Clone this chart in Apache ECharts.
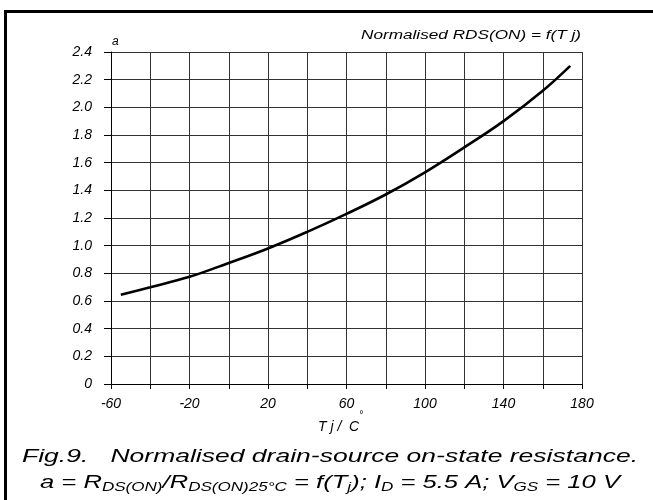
<!DOCTYPE html>
<html><head><meta charset="utf-8">
<script src="https://cdn.jsdelivr.net/npm/echarts@6/dist/echarts.min.js"></script>
<style>html,body{margin:0;padding:0;background:#fff}#c{width:653px;height:500px}</style>
</head><body><div id="c"></div>
<script>
const tempC = [-55, -40, -20, 0, 20, 40, 60, 80, 100, 120, 140, 160, 174];
const ratioA = [0.645, 0.70, 0.775, 0.875, 0.98, 1.10, 1.23, 1.37, 1.53, 1.71, 1.90, 2.12, 2.30];
const xLabelValues = [-60, -20, 20, 60, 100, 140, 180];
const yTickValues = [0, 0.2, 0.4, 0.6, 0.8, 1.0, 1.2, 1.4, 1.6, 1.8, 2.0, 2.2, 2.4];
const chartTitle = 'Normalised RDS(ON) = f(T j)';
const yName = 'a';
const caption1 = 'Fig.9.   Normalised drain-source on-state resistance.';
const caption2Parts = [
  ['m', 'a = R'], ['s', 'DS(ON)'], ['m', '/R'], ['s', 'DS(ON)25°C'], ['m', ' = f(T'], ['s', 'j'],
  ['m', '); I'], ['s', 'D'], ['m', ' = 5.5 A; V'], ['s', 'GS'], ['m', ' = 10 V']
];

const FONT = '"Liberation Sans", Arial, Helvetica, sans-serif';
const chart = echarts.init(document.getElementById('c'), null, {renderer: 'canvas'});
const lineData = tempC.map((t, i) => [t, ratioA[i]]);

const mctx = document.createElement('canvas').getContext('2d');
function measure(txt, size) {
  mctx.font = 'italic ' + size + 'px ' + FONT;
  return mctx.measureText(txt).width;
}
const M_SIZE = 18, S_SIZE = 12;
const cap1Scale = 616 / measure(caption1, M_SIZE);
const cap2W = caption2Parts.reduce((s, p) => s + measure(p[1], p[0] === 'm' ? M_SIZE : S_SIZE), 0);
const cap2Scale = 580 / cap2W;
const titleScale = 220 / measure(chartTitle, 12);
const caption2Rich = caption2Parts.map(p => '{' + p[0] + '|' + p[1] + '}').join('');

const option = {
  animation: false,
  backgroundColor: '#fff',
  grid: {left: 111, right: 71, top: 52, bottom: 116, containLabel: false},
  xAxis: {
    type: 'value', min: -60, max: 180, interval: 20,
    axisLine: {show: true, onZero: false, lineStyle: {color: '#000', width: 1}},
    axisTick: {show: true, length: 5, lineStyle: {color: '#000'}},
    splitLine: {show: true, lineStyle: {color: '#333', width: 1}},
    axisLabel: {
      margin: 13, color: '#000', fontSize: 14, fontStyle: 'italic', fontFamily: FONT,
      formatter: v => xLabelValues.indexOf(v) >= 0 ? String(v) : ''
    }
  },
  yAxis: {
    type: 'value', min: 0, max: 2.4, interval: 0.2,
    name: yName, nameLocation: 'end', nameGap: 4,
    nameTextStyle: {color: '#000', fontSize: 12, fontStyle: 'italic', fontFamily: FONT, align: 'left', padding: [0, 0, 0, 1]},
    axisLine: {show: true, onZero: false, lineStyle: {color: '#000', width: 1}},
    axisTick: {show: true, length: 7, lineStyle: {color: '#000'}},
    splitLine: {show: true, lineStyle: {color: '#333', width: 1}},
    axisLabel: {
      margin: 19, color: '#000', fontSize: 14, fontStyle: 'italic', fontFamily: FONT,
      formatter: v => {
        const m = yTickValues.find(t => Math.abs(t - v) < 1e-6);
        return m === 0 ? '0' : m.toFixed(1);
      }
    }
  },
  series: [{
    type: 'line', data: lineData, smooth: 0.4, showSymbol: false,
    lineStyle: {color: '#000', width: 2.6}
  }],
  graphic: [
    {type: 'rect', shape: {x: 4, y: 10, width: 653, height: 3}, style: {fill: '#000'}, silent: true},
    {type: 'rect', shape: {x: 4, y: 10, width: 3, height: 490}, style: {fill: '#000'}, silent: true},
    {type: 'text', x: 581, y: 36, scaleX: titleScale, style: {text: chartTitle, align: 'right', verticalAlign: 'middle',
      font: 'italic 12px ' + FONT, fill: '#000'}},
    {type: 'text', x: 318, y: 427, style: {text: 'T j /  C', align: 'left', verticalAlign: 'middle',
      font: 'italic 14px ' + FONT, fill: '#000'}},
    {type: 'text', x: 359, y: 415, style: {text: '°', align: 'left', verticalAlign: 'middle',
      font: 'italic 10px ' + FONT, fill: '#000'}},
    {type: 'text', x: 22, y: 457, scaleX: cap1Scale, style: {text: caption1, align: 'left', verticalAlign: 'middle',
      font: 'italic ' + M_SIZE + 'px ' + FONT, fill: '#000'}},
    {type: 'text', x: 40, y: 484, scaleX: cap2Scale, style: {
      text: caption2Rich, align: 'left', verticalAlign: 'middle',
      rich: {
        m: {font: 'italic ' + M_SIZE + 'px ' + FONT, fill: '#000', lineHeight: 20, verticalAlign: 'top'},
        s: {font: 'italic ' + S_SIZE + 'px ' + FONT, fill: '#000', lineHeight: 14, verticalAlign: 'bottom'}
      }
    }}
  ]
};
chart.setOption(option);
</script>
</body></html>
